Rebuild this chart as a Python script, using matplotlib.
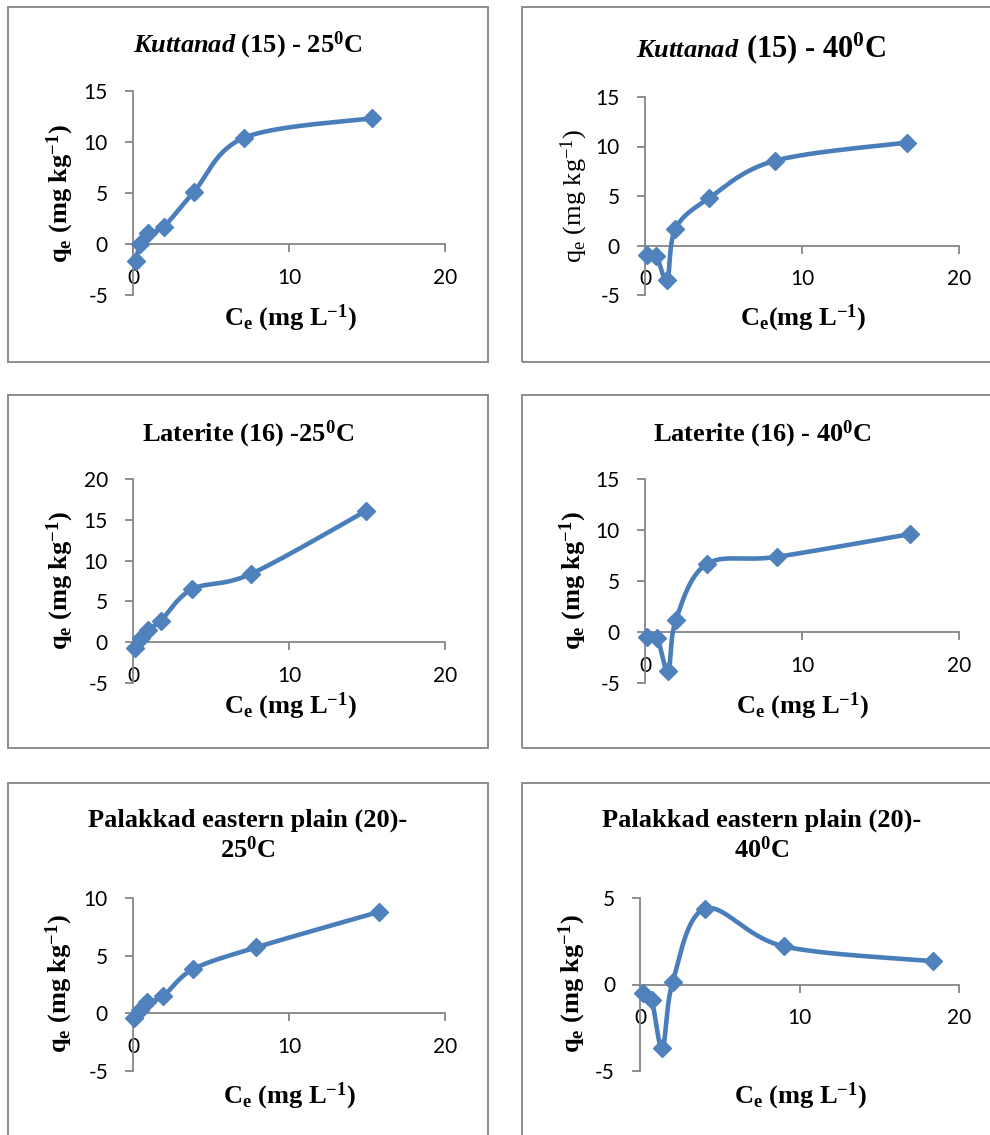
import numpy as np
import matplotlib
matplotlib.use("Agg")
import matplotlib.pyplot as plt
from matplotlib.patches import Rectangle

plt.rcParams["mathtext.fontset"] = "custom"
plt.rcParams["mathtext.rm"] = "Liberation Serif"
plt.rcParams["mathtext.bf"] = "Liberation Serif:bold"
plt.rcParams["mathtext.it"] = "Liberation Serif:italic:bold"
plt.rcParams["axes.unicode_minus"] = False

# Equilibrium concentration (mg L-1) and amount adsorbed (mg kg-1)
ce_kuttanad_25 = [0.21, 0.45, 0.96, 1.97, 3.89, 7.14, 15.32]
qe_kuttanad_25 = [-1.63, 0.0, 1.04, 1.70, 5.09, 10.43, 12.33]

ce_kuttanad_40 = [0.15, 0.72, 1.41, 1.94, 4.09, 8.25, 16.67]
qe_kuttanad_40 = [-0.98, -1.05, -3.50, 1.69, 4.80, 8.55, 10.40]

ce_laterite_25 = [0.15, 0.51, 0.94, 1.79, 3.78, 7.56, 14.94]
qe_laterite_25 = [-0.73, 0.49, 1.51, 2.65, 6.49, 8.37, 16.10]

ce_laterite_40 = [0.13, 0.77, 1.47, 1.96, 3.92, 8.40, 16.89]
qe_laterite_40 = [-0.49, -0.59, -3.87, 1.15, 6.65, 7.37, 9.60]

ce_palakkad_25 = [0.09, 0.47, 0.90, 1.92, 3.85, 7.90, 15.75]
qe_palakkad_25 = [-0.40, 0.32, 0.95, 1.47, 3.82, 5.72, 8.79]

ce_palakkad_40 = [0.17, 0.73, 1.40, 2.05, 4.08, 9.00, 18.35]
qe_palakkad_40 = [-0.52, -0.90, -3.69, 0.15, 4.38, 2.21, 1.35]

x_ticks = [0, 10, 20]
y_ticks_k25 = [-5, 0, 5, 10, 15]
y_ticks_k40 = [-5, 0, 5, 10, 15]
y_ticks_l25 = [-5, 0, 5, 10, 15, 20]
y_ticks_l40 = [-5, 0, 5, 10, 15]
y_ticks_p25 = [-5, 0, 5, 10]
y_ticks_p40 = [-5, 0, 5]

W, H = 990, 1135
fig = plt.figure(figsize=(W / 100, H / 100), dpi=100)
fig.patch.set_facecolor("white")

BLUE = "#4A7EBB"
AXIS_GREY = "#868686"
FRAME_GREY = "#8C8C8C"
SERIF = "Liberation Serif"
SANS = "Lato"


def fx(px):
    return px / W


def fy(py):
    return 1 - py / H


def smooth_curve(x, y, n=40):
    """Bezier smoothing through every point (Catmull-Rom style tangents)."""
    P = np.column_stack([x, y]).astype(float)
    Pm = np.vstack([P[0], P, P[-1]])
    t = np.linspace(0, 1, n)[1:, None]
    parts = [P[:1]]
    for i in range(len(P) - 1):
        p0, p1, p2, p3 = Pm[i], Pm[i + 1], Pm[i + 2], Pm[i + 3]
        c1 = p1 + (p2 - p0) / 6
        c2 = p2 - (p3 - p1) / 6
        seg = ((1 - t) ** 3) * p1 + 3 * ((1 - t) ** 2) * t * c1 \
            + 3 * (1 - t) * t ** 2 * c2 + t ** 3 * p2
        parts.append(seg)
    S = np.vstack(parts)
    return S[:, 0], S[:, 1]


def frame(x0, y0, x1, y1):
    fig.patches.append(Rectangle((fx(x0), fy(y1)), fx(x1 - x0), (y1 - y0) / H,
                                 transform=fig.transFigure, fill=False,
                                 edgecolor=FRAME_GREY, linewidth=1.4, zorder=0))


def panel(x0, x1, ytop, ybot, ce, qe, yticks):
    ax = fig.add_axes([fx(x0), fy(ybot), (x1 - x0) / W, (ybot - ytop) / H])
    ax.set_facecolor("none")
    ax.set_xlim(0, 20)
    ax.set_ylim(yticks[0], yticks[-1])
    for s in ("top", "right"):
        ax.spines[s].set_visible(False)
    ax.spines["bottom"].set_position(("data", 0))
    ax.spines["left"].set_position(("data", 0))
    for s in ("bottom", "left"):
        ax.spines[s].set_color(AXIS_GREY)
        ax.spines[s].set_linewidth(1.3)
    ax.set_xticks(x_ticks)
    ax.set_yticks(yticks)
    ax.tick_params(axis="both", direction="out", length=6, width=1.3,
                   color=AXIS_GREY, labelsize=15, labelcolor="black")
    ax.tick_params(axis="x", pad=11)
    ax.tick_params(axis="y", pad=12)
    for lab in ax.get_xticklabels() + ax.get_yticklabels():
        lab.set_fontfamily(SANS)
    sx, sy = smooth_curve(ce, qe)
    ax.plot(sx, sy, color=BLUE, lw=3.3, solid_capstyle="round",
            zorder=3, clip_on=False)
    ax.plot(ce, qe, ls="none", marker="D", ms=9.5, color="#4F81BD",
            mec="#4F81BD", zorder=4, clip_on=False)
    return ax


def ylabel(cx, cy, s, weight="bold"):
    fig.text(fx(cx), fy(cy), s, rotation=90, ha="center", va="center",
             fontsize=19, fontfamily=SERIF, fontweight=weight)


def xlabel(cx, base, s):
    fig.text(fx(cx), fy(base), s, ha="center", va="baseline",
             fontsize=19, fontfamily=SERIF, fontweight="bold")


def title(cx, base, s, size=19):
    fig.text(fx(cx), fy(base), s, ha="center", va="baseline",
             fontsize=size, fontfamily=SERIF, fontweight="bold")


def title_runs(cx, base, runs, gap=7):
    texts = [fig.text(0, fy(base), s, ha="left", va="baseline", fontsize=size,
                      fontfamily=SERIF, fontweight="bold") for s, size in runs]
    r = fig.canvas.get_renderer()
    widths = [t.get_window_extent(r).width for t in texts]
    total = sum(widths) + gap * (len(texts) - 1)
    x = cx - total / 2
    for t, w in zip(texts, widths):
        t.set_x(fx(x))
        x += w + gap


# chart frames
frame(8, 7, 488, 362)
frame(522, 7, 1010, 362)
frame(8, 395, 488, 748)
frame(522, 395, 1010, 748)
frame(8, 783, 488, 1150)
frame(522, 783, 1010, 1150)

Q_BOLD = r"$\mathbf{q_{e}}$ (mg $\mathbf{kg^{-1}}$)"
Q_REG = r"$\mathrm{q_{e}}$ (mg $\mathrm{kg^{-1}}$)"
C_BOLD = r"$\mathbf{C_{e}}$ (mg $\mathbf{L^{-1}}$)"
C_TIGHT = r"$\mathbf{C_{e}}$(mg $\mathbf{L^{-1}}$)"

# Kuttanad 25 C
panel(133, 445, 91, 295, ce_kuttanad_25, qe_kuttanad_25, y_ticks_k25)
title(248, 52, r"$\mathit{Kuttanad}$ (15) - $\mathbf{25^{0}}$C")
ylabel(60, 194, Q_BOLD)
xlabel(290, 325, C_BOLD)

# Kuttanad 40 C
panel(645, 959, 97, 295, ce_kuttanad_40, qe_kuttanad_40, y_ticks_k40)
title_runs(761, 57, [(r"$\mathit{Kuttanad}$", 19),
                     (r"(15) - $\mathbf{40^{0}}$C", 22)])
ylabel(574, 196, Q_REG, weight="normal")
xlabel(803, 325, C_TIGHT)

# Laterite 25 C
panel(133, 445, 479, 683, ce_laterite_25, qe_laterite_25, y_ticks_l25)
title(248, 441, r"Laterite (16) -$\mathbf{25^{0}}$C")
ylabel(60, 581, Q_BOLD)
xlabel(290, 713, C_BOLD)

# Laterite 40 C
panel(645, 959, 479, 683, ce_laterite_40, qe_laterite_40, y_ticks_l40)
title(762, 441, r"Laterite (16) - $\mathbf{40^{0}}$C")
ylabel(573, 581, Q_BOLD)
xlabel(802, 713, C_BOLD)

# Palakkad eastern plain 25 C
panel(133, 445, 898, 1071, ce_palakkad_25, qe_palakkad_25, y_ticks_p25)
title(248, 827, "Palakkad eastern plain (20)-")
title(248, 858, r"$\mathbf{25^{0}}$C")
ylabel(59, 984, Q_BOLD)
xlabel(289, 1103, C_BOLD)

# Palakkad eastern plain 40 C
panel(640, 959, 898, 1071, ce_palakkad_40, qe_palakkad_40, y_ticks_p40)
title(762, 827, "Palakkad eastern plain (20)-")
title(762, 858, r"$\mathbf{40^{0}}$C")
ylabel(572, 984, Q_BOLD)
xlabel(800, 1103, C_BOLD)

fig.savefig("out.png", dpi=100, facecolor="white")
